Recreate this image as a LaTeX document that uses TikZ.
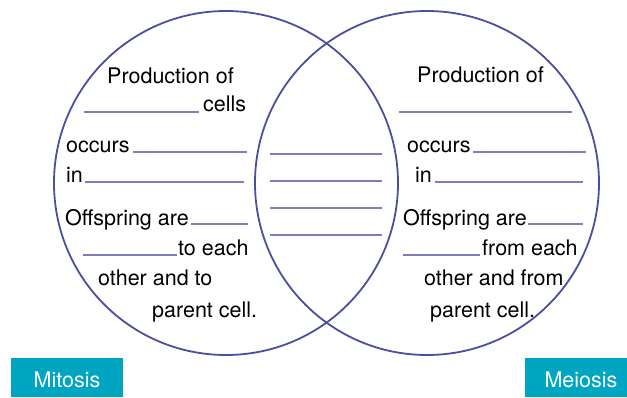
\documentclass[tikz,border=0pt]{standalone}
\usepackage{fontspec}
\setmainfont{TeX Gyre Heros}
\definecolor{ringblue}{HTML}{4B4F9E}
\definecolor{blankline}{HTML}{7C7FBA}
\definecolor{tealbox}{HTML}{00A5C2}
\begin{document}
\begin{tikzpicture}[x=1pt,y=-1pt,
  ring/.style={draw=ringblue,line width=1.8pt},
  blank/.style={draw=blankline,line width=1.4pt},
  txt/.style={inner sep=0pt,anchor=base west,font=\fontsize{21.5}{24}\selectfont,text=black},
  label/.style={fill=tealbox,text=white,inner sep=0pt,minimum width=112pt,minimum height=39pt,
    text height=19pt,text depth=0pt,font=\fontsize{21.5}{24}\selectfont}]
\useasboundingbox (0,0) rectangle (627,397);
\clip (0,0) rectangle (627,397);
% circles
\node[ring,circle,minimum size=344pt,inner sep=0pt] (mitc) at (226,183) {};
\node[ring,circle,minimum size=344pt,inner sep=0pt] (meic) at (427,183) {};
% left circle text
\node[txt] (l1) at (107,83) {Production of};
\draw[blank] (84,112) -- (199,112);
\node[txt] (l2) at (203,111) {cells};
\node[txt] (l3) at (66,152) {occurs};
\draw[blank] (133,152) -- (247,152);
\node[txt] (l4) at (66,182) {in};
\draw[blank] (85,182) -- (244,182);
\node[txt] (l5) at (65,225) {Offspring are};
\draw[blank] (191,224) -- (248,224);
\draw[blank] (83,255) -- (177,255);
\node[txt] (l6) at (178,255) {to each};
\node[txt] (l7) at (98,285) {other and to};
\node[txt] (l8) at (152,317) {parent cell.};
% middle blanks
\foreach \y in {154,181,208,235} \draw[blank] (270,\y) -- (382,\y);
% right circle text
\node[txt] (r1) at (417,82) {Production of};
\draw[blank] (399,112) -- (572,112);
\node[txt] (r3) at (407,152) {occurs};
\draw[blank] (473,152) -- (586,152);
\node[txt] (r4) at (415,182) {in};
\draw[blank] (435,182) -- (583,182);
\node[txt] (r5) at (403,225) {Offspring are};
\draw[blank] (528,224) -- (583,224);
\draw[blank] (403,255) -- (480,255);
\node[txt] (r6) at (482,255) {from each};
\node[txt] (r7) at (424,285) {other and from};
\node[txt] (r8) at (430,317) {parent cell.};
% labels
\node[label] (mit) at (67,377.5) {Mitosis};
\node[label] (mei) at (581,377.5) {Meiosis};
\end{tikzpicture}
\end{document}
